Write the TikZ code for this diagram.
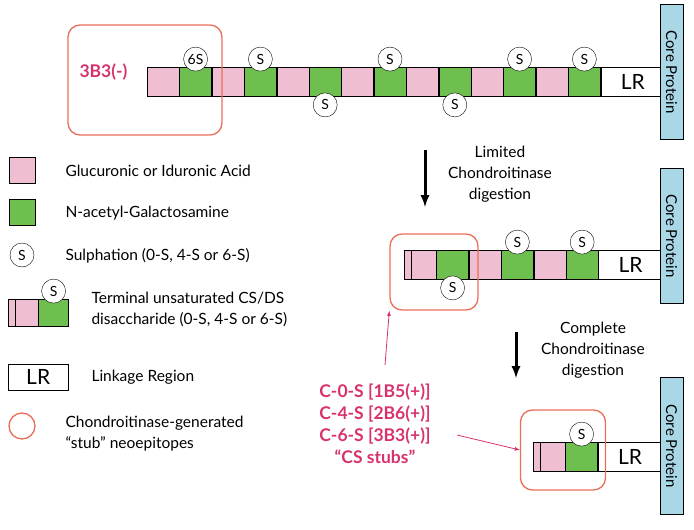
\documentclass[tikz,border=0pt]{standalone}
\usepackage{fontspec}
\setmainfont{Lato}
\usetikzlibrary{positioning}
\definecolor{gag}{RGB}{240,190,210}
\definecolor{nag}{RGB}{110,190,80}
\definecolor{stubred}{RGB}{235,110,90}
\definecolor{labred}{RGB}{215,50,110}
\definecolor{corebl}{RGB}{170,215,230}
\begin{document}
\begin{tikzpicture}[x=1pt, y=-1pt,
        every node/.style={font=\fontsize{15.5}{21}\selectfont},
        gal/.style={draw, fill=gag, minimum width=32pt, minimum height=29pt, inner sep=0pt, anchor=west},
        nac/.style={draw, fill=nag, minimum width=32pt, minimum height=29pt, inner sep=0pt, anchor=west},
        lr/.style={draw, fill=white, minimum width=64pt, minimum height=29pt, inner sep=0pt, anchor=west, font=\fontsize{21}{23}\selectfont},
        sul/.style={draw, circle, fill=white, minimum size=24pt, inner sep=0pt, font=\fontsize{14}{15}\selectfont},
        core/.style={draw, fill=corebl, minimum height=23pt, inner sep=0pt, rotate=-90, font=\fontsize{15}{17}\selectfont},
        stub/.style={draw=stubred, line width=1.3pt, rounded corners=12pt},
        dig/.style={-latex, line width=3pt},
        lnk/.style={-latex, labred, thick},
        txt/.style={anchor=west, align=left},
        red/.style={labred, font=\fontsize{17.5}{22}\selectfont\bfseries, align=center}
    ]
    \useasboundingbox (0,0) rectangle (694,530);

    % Top chain
    \node[gal] (t1) at (147,82) {};
    \foreach \i [count=\j from 2] in {1,...,13} {
        \pgfmathparse{isodd(\j) ? "gal" : "nac"}
        \node[\pgfmathresult, right=0pt of t\i] (t\j) {};
    }
    \node[lr, right=0pt of t14] (tlr) {LR};
    \node[core, minimum width=135pt] (tcore) at (671.5,72) {Core Protein};
    \node[sul, above=-4pt of t2] (ts2) {6S};
    \foreach \k in {4,8,12,14} \node[sul, above=-4pt of t\k] (ts\k) {S};
    \foreach \k in {6,10} \node[sul, below=-4pt of t\k] (ts\k) {S};
    \node[stub, minimum width=154pt, minimum height=110pt] (tbox) at (145,80) {};
    \node[red, anchor=west] (tlab) at (76,72) {3B3(-)};

    % Middle chain
    \node[gal] (m1) at (404,265) {};
    \draw (m1.north west) ++(7,0) -- ++(0,29);
    \foreach \i [count=\j from 2] in {1,...,5} {
        \pgfmathparse{isodd(\j) ? "gal" : "nac"}
        \node[\pgfmathresult, right=0pt of m\i] (m\j) {};
    }
    \node[lr, right=0pt of m6] (mlr) {LR};
    \node[core, minimum width=135pt] (mcore) at (671.5,236) {Core Protein};
    \node[sul, below=-4pt of m2] (ms2) {S};
    \foreach \k in {4,6} \node[sul, above=-4pt of m\k] (ms\k) {S};
    \node[stub, minimum width=88pt, minimum height=76pt] (mbox) at (434,272) {};

    % Bottom chain
    \node[gal] (b1) at (533,457) {};
    \draw (b1.north west) ++(7,0) -- ++(0,29);
    \node[nac, right=0pt of b1] (b2) {};
    \node[lr, right=0pt of b2] (blr) {LR};
    \node[core, minimum width=137pt] (bcore) at (671.5,446) {Core Protein};
    \node[sul, above=-4pt of b2] (bs2) {S};
    \node[stub, minimum width=85pt, minimum height=80pt] (bbox) at (563,450) {};

    % Digestion steps
    \coordinate (d1a) at (425,150);
    \coordinate (d1b) at (425,207);
    \draw[dig] (d1a) -- (d1b);
    \node[align=center] (d1t) at (500,174) {Limited\\Chondroitinase\\digestion};
    \coordinate (d2a) at (516,332);
    \coordinate (d2b) at (516,378);
    \draw[dig] (d2a) -- (d2b);
    \node[align=center] (d2t) at (593,350) {Complete\\Chondroitinase\\digestion};

    % CS stubs
    \node[red] (cs) at (375,424) {C-0-S [1B5(+)]\\C-4-S [2B6(+)]\\C-6-S [3B3(+)]\\“CS stubs”};
    \coordinate (cs1) at (385,365);
    \draw[lnk] (cs1) -- (mbox.south west);
    \coordinate (cs2) at (457,435);
    \draw[lnk] (cs2) -- (bbox.west);

    % Legend
    \node[draw, fill=gag, minimum size=26pt, inner sep=0pt] (lg1) at (22,170) {};
    \node[txt] (lt1) at (62,171) {Glucuronic or Iduronic Acid};
    \node[draw, fill=nag, minimum size=26pt, inner sep=0pt] (lg2) at (22,212) {};
    \node[txt] (lt2) at (62,213) {N-acetyl-Galactosamine};
    \node[sul] (lg3) at (22,255) {S};
    \node[txt] (lt3) at (62,256) {Sulphation (0-S, 4-S or 6-S)};
    \node[gal, minimum width=30pt, minimum height=27pt] (lg4a) at (8,313) {};
    \draw (lg4a.north west) ++(7,0) -- ++(0,27);
    \node[nac, minimum width=30pt, minimum height=27pt, right=0pt of lg4a] (lg4b) {};
    \node[sul, above=-4pt of lg4b] (lg4s) {S};
    \node[txt] (lt4) at (88,309) {Terminal unsaturated CS/DS\\disaccharide (0-S, 4-S or 6-S)};
    \node[lr, minimum width=60pt, minimum height=26pt] (lg5) at (8,377) {LR};
    \node[txt] (lt5) at (88,377) {Linkage Region};
    \node[draw=stubred, line width=1.3pt, circle, minimum size=26pt] (lg6) at (22,426) {};
    \node[txt] (lt6) at (62,434) {Chondroitinase-generated\\“stub” neoepitopes};
\end{tikzpicture}
\end{document}
